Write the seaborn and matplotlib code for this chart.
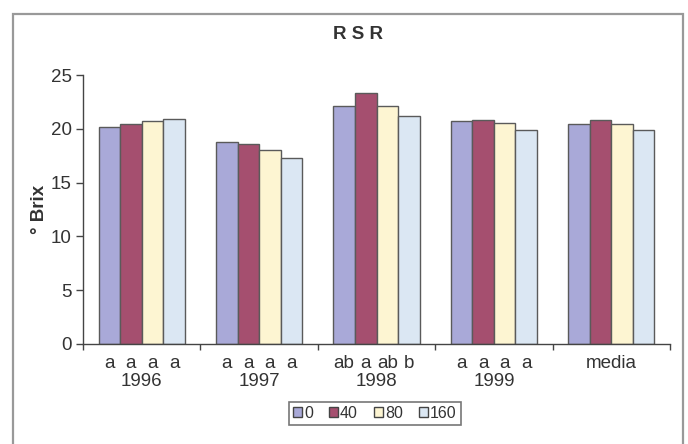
import matplotlib
matplotlib.use("Agg")
import matplotlib.pyplot as plt
from matplotlib.patches import Rectangle
import pandas as pd
import seaborn as sns

# Sugar content (° Brix) per year and nitrogen rate
groups = ["1996", "1997", "1998", "1999", "media"]
rates = ["0", "40", "80", "160"]
brix_0 = [20.2, 18.8, 22.1, 20.7, 20.4]
brix_40 = [20.4, 18.6, 23.3, 20.8, 20.8]
brix_80 = [20.7, 18.0, 22.1, 20.5, 20.4]
brix_160 = [20.9, 17.3, 21.2, 19.9, 19.9]
# significance letters for each bar (none for the mean group)
letters = [
    ["a", "a", "a", "a"],
    ["a", "a", "a", "a"],
    ["ab", "a", "ab", "b"],
    ["a", "a", "a", "a"],
    ["", "", "", ""],
]
year_labels = ["1996", "1997", "1998", "1999", ""]
mean_label = "media"

series = [brix_0, brix_40, brix_80, brix_160]
df = pd.DataFrame(
    [(g, r, s[i]) for r, s in zip(rates, series) for i, g in enumerate(groups)],
    columns=["group", "rate", "brix"],
)

sns.set_theme(style="white")
plt.rcParams["font.family"] = ["Liberation Sans", "DejaVu Sans"]

fig = plt.figure(figsize=(6.88, 4.44), dpi=100)
ax = fig.add_axes([83 / 688, 1 - 344 / 444, (670 - 83) / 688, (344 - 75) / 444])

palette = {"0": "#a9a9d8", "40": "#a54f6f", "80": "#fdf5d2", "160": "#dbe7f3"}
sns.barplot(
    data=df, x="group", y="brix", hue="rate", order=groups, hue_order=rates,
    palette=palette, width=0.735, gap=0, edgecolor="#5a5a5a", linewidth=1.0,
    saturation=1, ax=ax, errorbar=None,
)

ax.set_ylim(0, 25)
ax.set_xlim(-0.5, 4.5)
ax.set_yticks([0, 5, 10, 15, 20, 25])
ax.tick_params(axis="y", which="major", length=5, width=1, color="#444",
               labelsize=13.5, labelcolor="#333", pad=3, left=True)
ax.set_xticks(range(len(groups)))
ax.set_xticklabels(year_labels, fontsize=13.5, color="#333")
ax.tick_params(axis="x", which="major", length=0, pad=21)
ax.set_xticks([-0.5, 0.5, 1.5, 2.5, 3.5, 4.5], minor=True)
ax.tick_params(axis="x", which="minor", length=4, width=1, color="#444",
               bottom=True, direction="out")

for side in ["top", "right"]:
    ax.spines[side].set_visible(False)
for side in ["left", "bottom"]:
    ax.spines[side].set_color("#444")
    ax.spines[side].set_linewidth(1.0)

# significance letters under each bar
for hi, cont in enumerate(ax.containers):
    for gi, patch in enumerate(cont.patches):
        txt = letters[gi][hi]
        if not txt:
            continue
        cx = patch.get_x() + patch.get_width() / 2
        ax.annotate(txt, xy=(cx, 0), xycoords=ax.get_xaxis_transform(),
                    xytext=(0, -19), textcoords="offset pixels",
                    ha="center", va="center", fontsize=13.5, color="#333")

# label of the mean group sits on the letter row
ax.annotate(mean_label, xy=(groups.index("media"), 0),
            xycoords=ax.get_xaxis_transform(), xytext=(0, -19),
            textcoords="offset pixels", ha="center", va="center",
            fontsize=13.5, color="#333")

ax.set_xlabel("")
ax.set_ylabel("° Brix", fontsize=13.5, fontweight="bold", color="#333", labelpad=2)
ax.set_title("R S R", fontsize=13.5, fontweight="bold", color="#333", pad=26)
ax.title.set_position((0.468, 1.0))

leg = ax.legend(
    loc="center", bbox_to_anchor=(0.497, -0.257), ncol=4, frameon=True,
    fontsize=11.5, handlelength=0.55, handleheight=0.55, handletextpad=0.15,
    columnspacing=1.0, borderpad=0.25, borderaxespad=0, fancybox=False,
    title=None,
)
leg.get_frame().set_edgecolor("#555")
leg.get_frame().set_linewidth(1.2)
for t in leg.get_texts():
    t.set_color("#333")
for h in leg.legend_handles:
    h.set_edgecolor("#444")

# outer frame of the chart
fig.patches.append(Rectangle((12.5 / 688, -0.2), (683 - 12.5) / 688, 1.2 - 14 / 444,
                             transform=fig.transFigure, fill=False,
                             edgecolor="#999999", linewidth=1.6))

fig.savefig("out.png", dpi=100)
